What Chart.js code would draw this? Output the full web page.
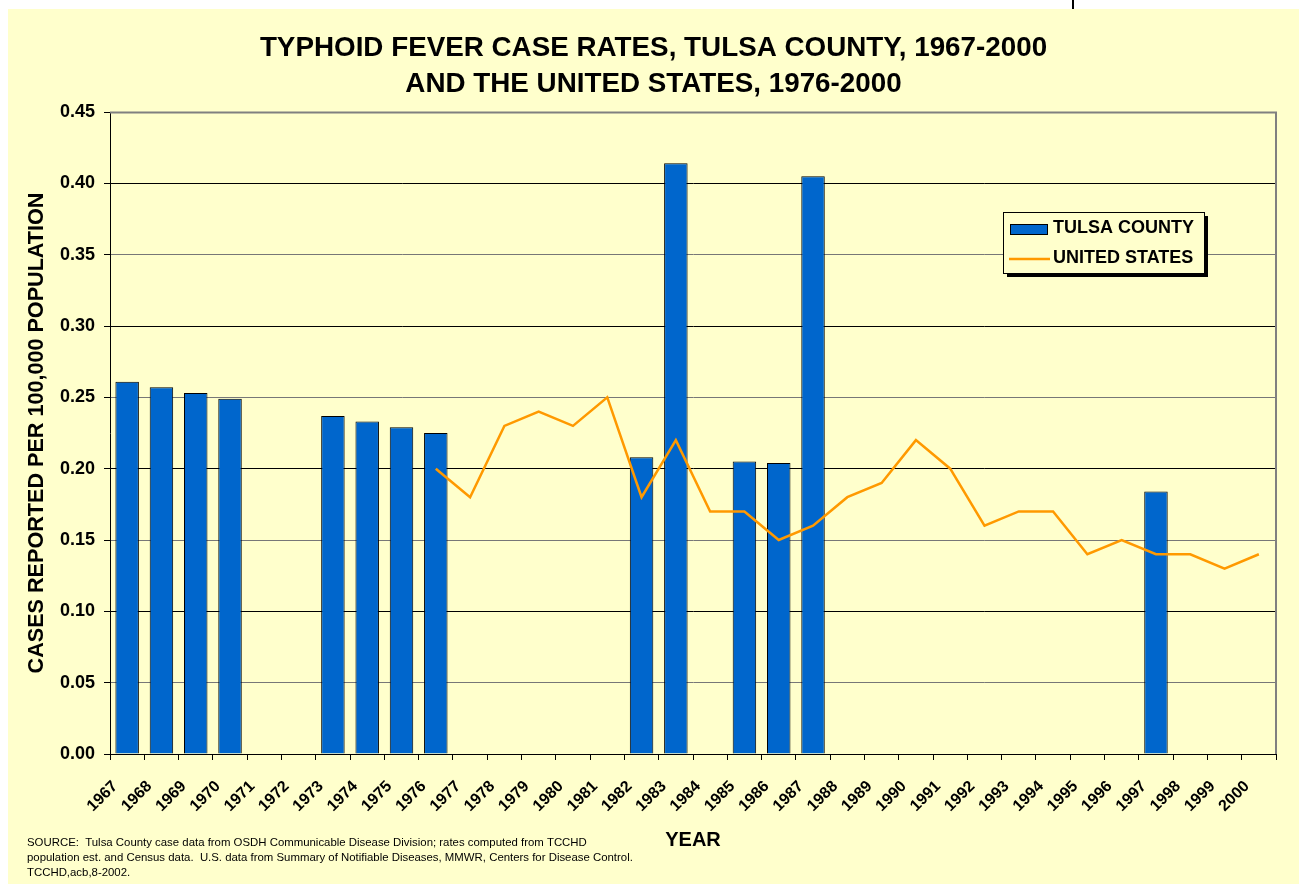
<!DOCTYPE html>
<html lang="en">

<head>
  <meta charset="UTF-8">
  <title>Typhoid Fever Case Rates, Tulsa County and the United States</title>
  <script src="https://cdn.jsdelivr.net/npm/chart.js"></script>
  <style>
    body {
      margin: 0;
      background: #ffffff;
    }

    #chartContainer {
      width: 1299px;
      height: 884px;
    }
  </style>
</head>

<body>

  <div id="chartContainer">
    <canvas id="typhoidChart" width="1299" height="884"></canvas>
  </div>

  <script>
    const years = ["1967", "1968", "1969", "1970", "1971", "1972", "1973", "1974", "1975", "1976",
      "1977", "1978", "1979", "1980", "1981", "1982", "1983", "1984", "1985", "1986", "1987", "1988",
      "1989", "1990", "1991", "1992", "1993", "1994", "1995", "1996", "1997", "1998", "1999", "2000"];

    // cases per 100,000, Tulsa County (null = no cases that year)
    const tulsaRates = [0.261, 0.257, 0.253, 0.249, null, null, 0.237, 0.233, 0.229, 0.225,
      null, null, null, null, null, 0.208, 0.414, null, 0.205, 0.204, 0.405, null,
      null, null, null, null, null, null, null, null, 0.184, null, null, null];

    // US rates only from 1976 on
    const usRates = [null, null, null, null, null, null, null, null, null, 0.20,
      0.18, 0.23, 0.24, 0.23, 0.25, 0.18, 0.22, 0.17, 0.17, 0.15, 0.16, 0.18,
      0.19, 0.22, 0.20, 0.16, 0.17, 0.17, 0.14, 0.15, 0.14, 0.14, 0.13, 0.14];

    const yMax = 0.45;
    const yStep = 0.05;

    const titleLines = ["TYPHOID FEVER CASE RATES, TULSA COUNTY, 1967-2000", "AND THE UNITED STATES, 1976-2000"];
    const sourceNote = [
      "SOURCE:  Tulsa County case data from OSDH Communicable Disease Division; rates computed from TCCHD",
      "population est. and Census data.  U.S. data from Summary of Notifiable Diseases, MMWR, Centers for Disease Control.",
      "TCCHD,acb,8-2002."
    ];

    const FONT = '"Liberation Sans", Arial, sans-serif';
    const SHEET = '#ffffcc';

    // pale yellow sheet with a thin white margin on top and left
    const sheetBackground = {
      id: 'sheetBackground',
      beforeDraw(chart) {
        const { ctx, width, height } = chart;
        ctx.save();
        ctx.fillStyle = '#ffffff';
        ctx.fillRect(0, 0, width, height);
        ctx.fillStyle = SHEET;
        ctx.fillRect(8, 9, width - 8, height - 9);
        // page edge mark above the sheet
        ctx.fillStyle = '#000000';
        ctx.fillRect(1072, 0, 2, 9);
        ctx.restore();
      }
    };

    // grey frame on the top and right of the plot area
    const plotFrame = {
      id: 'plotFrame',
      afterDatasetsDraw(chart) {
        const { ctx, chartArea: a } = chart;
        ctx.save();
        ctx.strokeStyle = '#808080';
        ctx.lineWidth = 2;
        ctx.beginPath();
        ctx.moveTo(a.left, a.top + 0.5);
        ctx.lineTo(a.right, a.top + 0.5);
        ctx.lineTo(a.right, a.bottom);
        ctx.stroke();
        ctx.restore();
      }
    };

    // boxed legend with drop shadow, inside the plot
    const boxedLegend = {
      id: 'boxedLegend',
      afterDraw(chart) {
        const { ctx } = chart;
        const bars = chart.data.datasets.find(d => d.type === 'bar');
        const line = chart.data.datasets.find(d => d.type === 'line');
        const x = 1003, y = 212, w = 201, h = 61;
        ctx.save();
        ctx.fillStyle = '#000000';
        ctx.fillRect(x + 4, y + 4, w, h);
        ctx.fillStyle = SHEET;
        ctx.fillRect(x, y, w, h);
        ctx.strokeStyle = '#000000';
        ctx.lineWidth = 1;
        ctx.strokeRect(x + 0.5, y + 0.5, w, h);

        ctx.fillStyle = bars.backgroundColor;
        ctx.fillRect(x + 7, y + 12, 37, 10);
        ctx.strokeRect(x + 7.5, y + 12.5, 37, 10);

        ctx.strokeStyle = line.borderColor;
        ctx.lineWidth = 2.5;
        ctx.beginPath();
        ctx.moveTo(x + 6, y + 47);
        ctx.lineTo(x + 47, y + 47);
        ctx.stroke();

        ctx.fillStyle = '#000000';
        ctx.font = 'bold 18px ' + FONT;
        ctx.textBaseline = 'middle';
        ctx.textAlign = 'left';
        ctx.fillText(bars.label, x + 50, y + 16);
        ctx.fillText(line.label, x + 50, y + 46);
        ctx.restore();
      }
    };

    // source note in the lower left corner
    const sourceText = {
      id: 'sourceText',
      afterDraw(chart) {
        const { ctx } = chart;
        ctx.save();
        ctx.fillStyle = '#000000';
        ctx.font = '11.4px ' + FONT;
        ctx.textBaseline = 'middle';
        ctx.textAlign = 'left';
        sourceNote.forEach((t, i) => ctx.fillText(t, 27, 843 + i * 15));
        ctx.restore();
      }
    };

    const ctx = document.getElementById('typhoidChart').getContext('2d');
    new Chart(ctx, {
      data: {
        labels: years,
        datasets: [
          {
            type: 'bar',
            label: 'TULSA COUNTY',
            data: tulsaRates,
            backgroundColor: '#0066cc',
            borderColor: '#000000',
            borderWidth: 1,
            barPercentage: 0.685,
            categoryPercentage: 1.0,
            order: 1
          },
          {
            type: 'line',
            label: 'UNITED STATES',
            data: usRates,
            borderColor: '#ff9900',
            borderWidth: 2.5,
            pointRadius: 0,
            tension: 0,
            fill: false,
            order: 0
          }
        ]
      },
      plugins: [sheetBackground, plotFrame, boxedLegend, sourceText],
      options: {
        responsive: false,
        animation: false,
        layout: {
          padding: { left: 31, right: 23, top: 0, bottom: 0 }
        },
        plugins: {
          legend: { display: false },
          tooltip: { enabled: false },
          title: {
            display: true,
            text: titleLines,
            color: '#000000',
            font: { family: FONT, size: 27.8, weight: 'bold', lineHeight: 1.277 },
            padding: { top: 30.75, bottom: 10.25 }
          }
        },
        scales: {
          x: {
            offset: true,
            grid: {
              offset: true,
              drawOnChartArea: false,
              drawTicks: true,
              tickLength: 6,
              color: '#000000'
            },
            border: { color: '#000000', width: 1 },
            ticks: {
              autoSkip: false,
              minRotation: 45,
              maxRotation: 45,
              labelOffset: -12,
              padding: 17,
              color: '#000000',
              font: { family: FONT, size: 16, weight: 'bold' }
            },
            title: {
              display: true,
              text: 'YEAR',
              color: '#000000',
              font: { family: FONT, size: 20, weight: 'bold' },
              padding: { top: 0, bottom: 32 }
            },
            afterFit(scale) {
              scale.height = 130;
            }
          },
          y: {
            min: 0,
            max: yMax,
            grid: {
              color: c => (c.index % 2 ? '#777777' : '#000000'),
              tickColor: '#000000',
              tickLength: 6
            },
            border: { color: '#000000', width: 1 },
            ticks: {
              stepSize: yStep,
              padding: 9,
              color: '#000000',
              font: { family: FONT, size: 18, weight: 'bold' },
              callback: v => Number(v).toFixed(2)
            },
            title: {
              display: true,
              text: 'CASES REPORTED PER 100,000 POPULATION',
              color: '#000000',
              font: { family: FONT, size: 21.6, weight: 'bold' },
              padding: { top: -7, bottom: 0 }
            },
            afterFit(scale) {
              scale.width = 79;
            }
          }
        }
      }
    });
  </script>
</body>

</html>
